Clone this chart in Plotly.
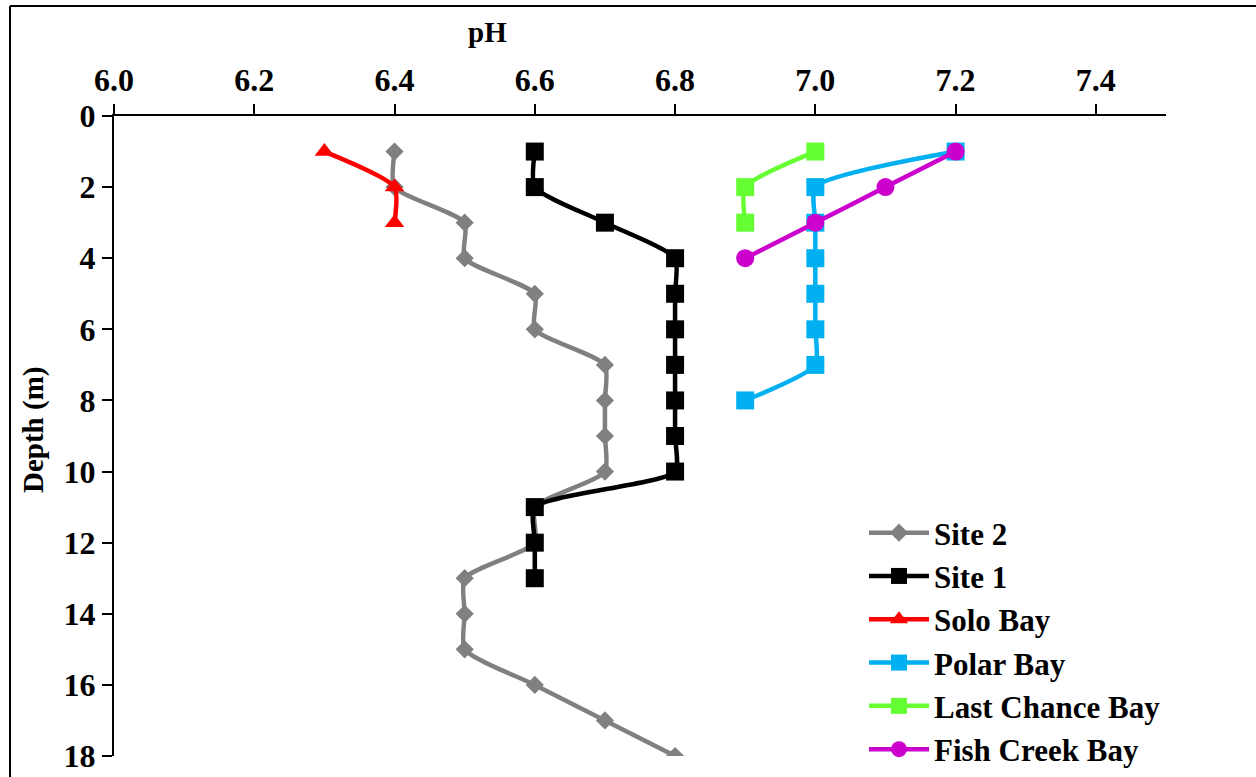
import plotly.graph_objects as go

site2_depth = [1, 2, 3, 4, 5, 6, 7, 8, 9, 10, 11, 12, 13, 14, 15, 16, 17, 18]
site2_ph = [6.4, 6.4, 6.5, 6.5, 6.6, 6.6, 6.7, 6.7, 6.7, 6.7, 6.6, 6.6, 6.5, 6.5, 6.5, 6.6, 6.7, 6.8]

site1_depth = [1, 2, 3, 4, 5, 6, 7, 8, 9, 10, 11, 12, 13]
site1_ph = [6.6, 6.6, 6.7, 6.8, 6.8, 6.8, 6.8, 6.8, 6.8, 6.8, 6.6, 6.6, 6.6]

solo_depth = [1, 2, 3]
solo_ph = [6.3, 6.4, 6.4]

polar_depth = [1, 2, 3, 4, 5, 6, 7, 8]
polar_ph = [7.2, 7.0, 7.0, 7.0, 7.0, 7.0, 7.0, 6.9]

lastchance_depth = [1, 2, 3]
lastchance_ph = [7.0, 6.9, 6.9]

fishcreek_depth = [1, 2, 3, 4]
fishcreek_ph = [7.2, 7.1, 7.0, 6.9]

x_ticks = [6.0, 6.2, 6.4, 6.6, 6.8, 7.0, 7.2, 7.4]
y_ticks = [0, 2, 4, 6, 8, 10, 12, 14, 16, 18]

FONT = "Liberation Serif"

series = [
    ("Site 2", site2_ph, site2_depth, "#808080", "diamond", 14),
    ("Site 1", site1_ph, site1_depth, "#000000", "square", 18),
    ("Solo Bay", solo_ph, solo_depth, "#FF0000", "triangle-up", 17),
    ("Polar Bay", polar_ph, polar_depth, "#00B0F0", "square", 18),
    ("Last Chance Bay", lastchance_ph, lastchance_depth, "#66FF33", "square", 18),
    ("Fish Creek Bay", fishcreek_ph, fishcreek_depth, "#CC00CC", "circle", 18),
]

fig = go.Figure()
for name, x, y, color, sym, size in series:
    fig.add_trace(go.Scatter(
        x=x, y=y, name=name, mode="lines+markers",
        line=dict(color=color, width=4.5, shape="spline", smoothing=0.6),
        marker=dict(symbol=sym, size=size, color=color, line=dict(width=0)),
    ))

L, R, T, B = 114, 90, 116, 21
W, H = 1256, 777
pw, ph = W - L - R, H - T - B

def px_x(p):
    return (p - L) / pw

def px_y(p):
    return (H - B - p) / ph

fig.update_layout(
    width=W, height=H,
    margin=dict(l=L, r=R, t=T, b=B, autoexpand=False),
    paper_bgcolor="white", plot_bgcolor="white",
    font=dict(family=FONT, color="black"),
    showlegend=True,
    legend=dict(
        x=px_x(864), y=px_y(506), xanchor="left", yanchor="top",
        font=dict(family=FONT, size=31, color="black", weight="bold"),
        bgcolor="rgba(0,0,0,0)", itemwidth=60, tracegroupgap=0,
    ),
    xaxis=dict(
        side="top", range=[6.0, 7.5], tickvals=x_ticks,
        ticktext=[f"{v:.1f}" for v in x_ticks],
        showgrid=False, zeroline=False, showline=True, linecolor="black", linewidth=2,
        ticks="outside", ticklen=10, tickwidth=2, tickcolor="black",
        tickfont=dict(family=FONT, size=32, color="black", weight="bold"),
    ),
    yaxis=dict(
        range=[18, 0], tickvals=y_ticks,
        showgrid=False, zeroline=False, showline=True, linecolor="black", linewidth=2,
        ticks="outside", ticklen=10, tickwidth=2, tickcolor="black",
        tickfont=dict(family=FONT, size=32, color="black", weight="bold"),
    ),
    annotations=[
        dict(text="<b>pH</b>", xref="paper", yref="paper", x=px_x(487), y=px_y(32),
             xanchor="center", yanchor="middle", showarrow=False,
             font=dict(family=FONT, size=29, color="black")),
        dict(text="<b>Depth (m)</b>", xref="paper", yref="paper", x=px_x(33), y=px_y(430),
             xanchor="center", yanchor="middle", showarrow=False, textangle=-90,
             font=dict(family=FONT, size=29, color="black")),
    ],
    shapes=[
        dict(type="line", xref="paper", yref="paper", x0=px_x(10), x1=px_x(1260),
             y0=px_y(6), y1=px_y(6), line=dict(color="black", width=2)),
        dict(type="line", xref="paper", yref="paper", x0=px_x(10), x1=px_x(10),
             y0=px_y(6), y1=px_y(790), line=dict(color="black", width=2)),
    ],
)

fig.write_html("out.html", config={"displayModeBar": False},
               post_script="document.body.style.margin='0';document.body.style.overflow='hidden';")
